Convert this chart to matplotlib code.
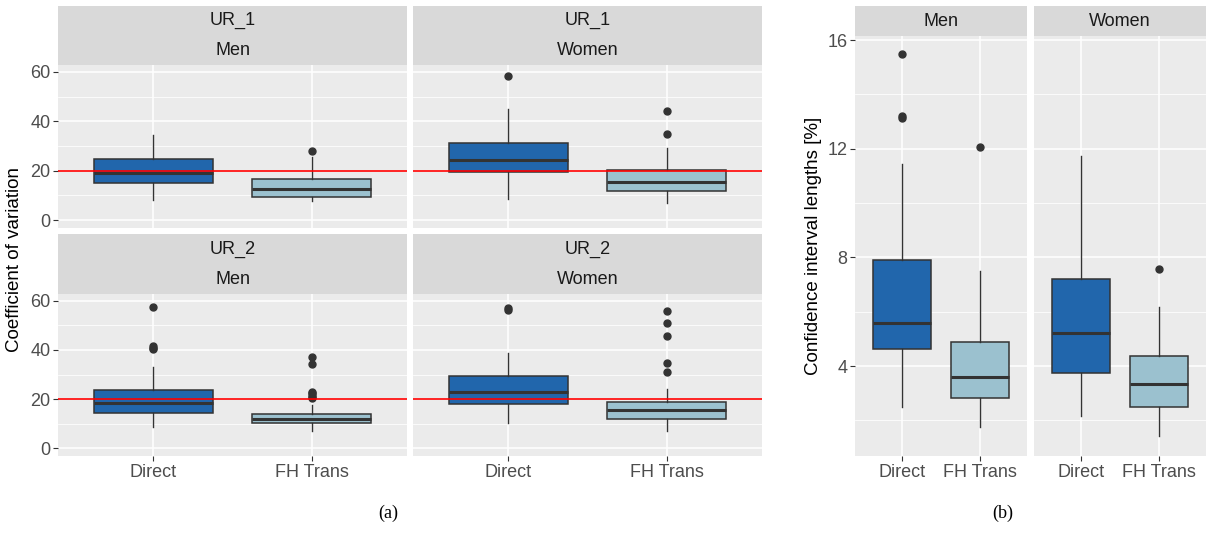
import numpy as np
import matplotlib
matplotlib.use("Agg")
import matplotlib.pyplot as plt

plt.rcParams['font.family'] = ['Liberation Sans', 'DejaVu Sans']

# ---- data ----
methods = ["Direct", "FH Trans"]
fills = ["#2166AC", "#9BC1CF"]

# (a) coefficient of variation, panels UR_1/UR_2 x Men/Women
cv_panels = [("UR_1", "Men"), ("UR_1", "Women"), ("UR_2", "Men"), ("UR_2", "Women")]
cv_q1 = [[14.9, 9.5], [19.6, 11.9], [14.4, 10.3], [18.0, 11.8]]
cv_med = [[19.2, 12.4], [24.3, 15.5], [18.5, 12.0], [22.7, 15.4]]
cv_q3 = [[24.7, 16.5], [31.1, 20.3], [23.7, 14.1], [29.5, 19.0]]
cv_lo = [[8.1, 7.7], [8.4, 6.8], [8.7, 7.1], [10.3, 6.8]]
cv_hi = [[34.5, 25.7], [44.9, 29.1], [32.9, 17.5], [38.9, 24.1]]
cv_out = [
    [[], [28.0]],
    [[58.2], [44.1, 34.7]],
    [[57.4, 41.8, 41.0, 40.4], [37.3, 34.1, 23.0, 22.4, 21.8, 21.0, 20.6]],
    [[57.2, 56.4], [55.9, 50.9, 45.8, 34.8, 31.1]],
]
cv_ref = 20

# (b) confidence interval lengths, Men / Women
ci_panels = ["Men", "Women"]
ci_q1 = [[4.63, 2.82], [3.74, 2.50]]
ci_med = [[5.58, 3.60], [5.21, 3.33]]
ci_q3 = [[7.89, 4.88], [7.20, 4.37]]
ci_lo = [[2.49, 1.76], [2.16, 1.43]]
ci_hi = [[11.45, 7.49], [11.75, 6.17]]
ci_out = [[[15.49, 13.2, 13.15], [12.07]], [[], [7.56]]]

W, H = 1208, 556
fig = plt.figure(figsize=(W / 100, H / 100), dpi=100)

BG = "#EBEBEB"
STRIP = "#D9D9D9"
EDGE = "#333333"
TICK_FS = 13
STRIP_FS = 13
TITLE_FS = 13.5


def rect(x0, y0, x1, y1):
    return [x0 / W, 1 - y1 / H, (x1 - x0) / W, (y1 - y0) / H]


def strip(x0, y0, x1, y1, lines):
    s = fig.add_axes(rect(x0, y0, x1, y1))
    s.set_facecolor(STRIP)
    s.set_xticks([])
    s.set_yticks([])
    for sp in s.spines.values():
        sp.set_visible(False)
    n = len(lines)
    for i, t in enumerate(lines):
        s.text(0.5, 1 - (i + 0.5) / n, t, ha="center", va="center",
               fontsize=STRIP_FS, color="#1A1A1A", transform=s.transAxes)


def panel(x0, y0, x1, y1, q1, med, q3, lo, hi, out, ylim, major, minor,
          show_y, show_x, ref=None):
    ax = fig.add_axes(rect(x0, y0, x1, y1))
    ax.set_facecolor(BG)
    for sp in ax.spines.values():
        sp.set_visible(False)
    ax.set_axisbelow(True)
    stats = []
    for j in range(2):
        stats.append(dict(q1=q1[j], med=med[j], q3=q3[j], whislo=lo[j],
                          whishi=hi[j], fliers=out[j]))
    bp = ax.bxp(stats, positions=[1, 2], widths=0.75, patch_artist=True,
                showcaps=False, manage_ticks=False,
                boxprops=dict(edgecolor=EDGE, lw=1.1),
                medianprops=dict(color=EDGE, lw=2.2),
                whiskerprops=dict(color=EDGE, lw=1.0),
                flierprops=dict(marker="o", markersize=5, markerfacecolor=EDGE,
                                markeredgecolor=EDGE))
    for patch, c in zip(bp["boxes"], fills):
        patch.set_facecolor(c)
    if ref is not None:
        ax.axhline(ref, color="red", lw=1.2, zorder=5)

    ax.set_xlim(0.4, 2.6)
    ax.set_ylim(*ylim)
    ax.set_yticks(major)
    ax.set_yticks(minor, minor=True)
    ax.set_xticks([1, 2])
    ax.grid(True, which="major", color="white", lw=1.1)
    ax.grid(True, which="minor", axis="y", color="white", lw=0.55)
    ax.tick_params(which="minor", length=0)
    ax.tick_params(which="major", length=3.5, color=EDGE, width=0.8,
                   labelsize=TICK_FS, labelcolor="#4D4D4D", pad=2)
    if show_x:
        ax.set_xticklabels(methods)
    else:
        ax.set_xticklabels([])
        ax.tick_params(axis="x", length=0)
    if show_y:
        ax.set_yticklabels([f"{v:g}" for v in major])
    else:
        ax.set_yticklabels([])
        ax.tick_params(axis="y", length=0)
    return ax


# ---- (a) ----
cols_a = [(58, 407), (413, 762)]
rows_a = [(6, 65, 228), (234, 294, 456)]
for k, (ur, sex) in enumerate(cv_panels):
    r, c = divmod(k, 2)
    xa, xb = cols_a[c]
    ys, yp, ye = rows_a[r]
    strip(xa, ys, xb, yp, [ur, sex])
    panel(xa, yp, xb, ye, cv_q1[k], cv_med[k], cv_q3[k], cv_lo[k], cv_hi[k],
          cv_out[k], (-3.2, 62.8), [0, 20, 40, 60], [10, 30, 50],
          show_y=(c == 0), show_x=(r == 1), ref=cv_ref)

fig.text(15 / W, 1 - 260 / H, "Coefficient of variation", rotation=90,
         ha="center", va="center", fontsize=TITLE_FS, color="black")

# ---- (b) ----
cols_b = [(855, 1027), (1034, 1206)]
for k, sex in enumerate(ci_panels):
    xa, xb = cols_b[k]
    strip(xa, 6, xb, 36, [sex])
    panel(xa, 36, xb, 456, ci_q1[k], ci_med[k], ci_q3[k], ci_lo[k], ci_hi[k],
          ci_out[k], (0.69, 16.15), [4, 8, 12, 16], [2, 6, 10, 14],
          show_y=(k == 0), show_x=True)

fig.text(813 / W, 1 - 246 / H, "Confidence interval lengths [%]", rotation=90,
         ha="center", va="center", fontsize=TITLE_FS, color="black")

fig.text(388 / W, 1 - 513 / H, "(a)", ha="center", va="center",
         fontsize=13, family="Liberation Serif")
fig.text(1003 / W, 1 - 513 / H, "(b)", ha="center", va="center",
         fontsize=13, family="Liberation Serif")

fig.savefig("out.png", dpi=100)
